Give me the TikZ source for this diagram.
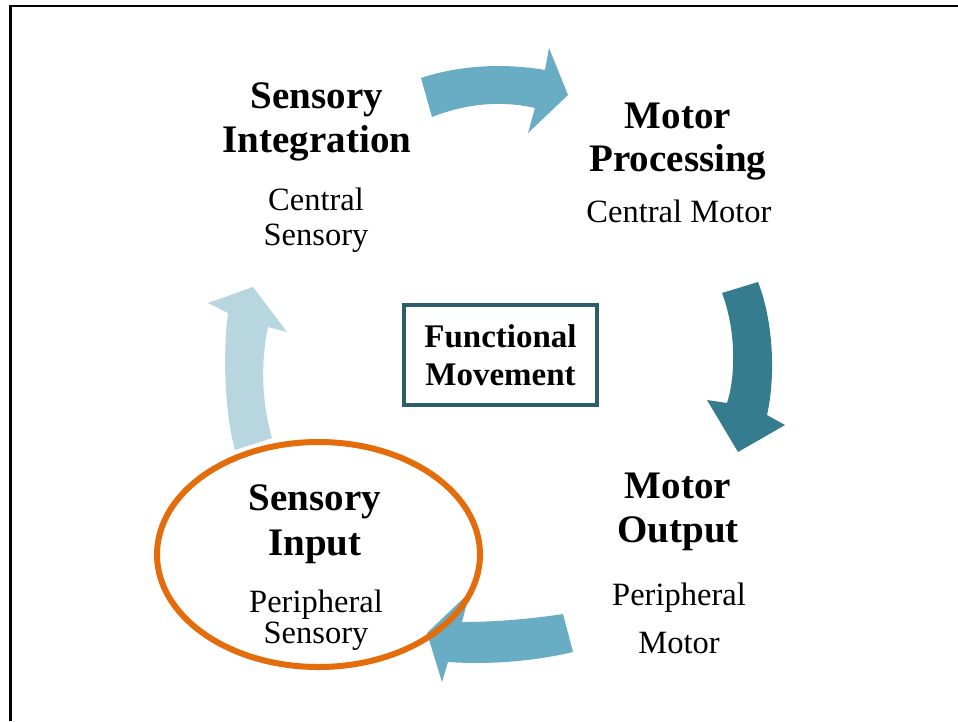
\documentclass[tikz,border=0pt]{standalone}
\usepackage{fontspec}
\setmainfont{Liberation Serif}
\definecolor{arrowmid}{RGB}{105,173,196}
\definecolor{arrowdark}{RGB}{54,124,143}
\definecolor{arrowlight}{RGB}{183,214,224}
\definecolor{boxline}{RGB}{44,93,106}
\definecolor{ringorange}{RGB}{228,108,10}
\tikzset{
  titletext/.style={font=\bfseries\fontsize{39}{44}\selectfont, anchor=base, inner sep=0pt},
  subtext/.style={font=\fontsize{32.5}{36}\selectfont, anchor=base, inner sep=0pt},
  blockarrow/.style={draw=none}
}
\begin{document}
\begin{tikzpicture}[x=1pt,y=-1pt]
\useasboundingbox (0,0) rectangle (958,721);
\fill[white] (0,0) rectangle (958,721);
% frame
\draw[line width=2.8pt] (10.5,721) -- (10.5,6) -- (958,6);

% block arrows
\fill[arrowmid,blockarrow] (421,78) .. controls (460,65) and (505,63) .. (545,70)
  -- (549,48) -- (568,95) -- (528,133) -- (535,108)
  .. controls (500,100) and (465,104) .. (432,117) -- cycle;
\fill[arrowdark,blockarrow] (722,293) .. controls (736,330) and (736,375) .. (727,403)
  -- (707,400) -- (738,452) -- (785,425) -- (767,415)
  .. controls (776,375) and (773,320) .. (758,282) -- cycle;
\fill[arrowmid,blockarrow] (563,614) .. controls (530,619) and (495,622) .. (462,622)
  -- (470,592) -- (427,633) -- (442,682) -- (448,662)
  .. controls (490,665) and (535,661) .. (573,652) -- cycle;
\fill[arrowlight,blockarrow] (235,450) .. controls (224,410) and (223,350) .. (228,313)
  -- (208,303) -- (253,287) -- (287,332) -- (268,327)
  .. controls (261,360) and (261,400) .. (272,438) -- cycle;

% Sensory Integration
\node[titletext] (si1) at (317,108) {Sensory};
\node[titletext] (si2) at (317,152) {Integration};
\node[subtext] (si3) at (316,210) {Central};
\node[subtext] (si4) at (316,245) {Sensory};

% Motor Processing
\node[titletext] (mp1) at (678,128) {Motor};
\node[titletext] (mp2) at (678,171) {Processing};
\node[subtext] (mp3) at (679,222) {Central Motor};

% Motor Output
\node[titletext] (mo1) at (678,498) {Motor};
\node[titletext] (mo2) at (678,542) {Output};
\node[subtext] (mo3) at (679,605) {Peripheral};
\node[subtext] (mo4) at (679,653) {Motor};

% Sensory Input
\node[titletext] (sn1) at (315,510) {Sensory};
\node[titletext] (sn2) at (315,555) {Input};
\node[subtext] (sn3) at (316,612) {Peripheral};
\node[subtext] (sn4) at (316,643) {Sensory};

% centre box
\node[draw=boxline, line width=4pt, minimum width=193pt, minimum height=100pt,
      inner sep=0pt, align=center, font=\bfseries\fontsize{33}{38}\selectfont]
      (fm) at (500.5,355) {Functional\\Movement};

% orange ring
\draw[ringorange, line width=6pt] (318.5,554.5) ellipse [x radius=161.5, y radius=112.5];
\end{tikzpicture}
\end{document}
